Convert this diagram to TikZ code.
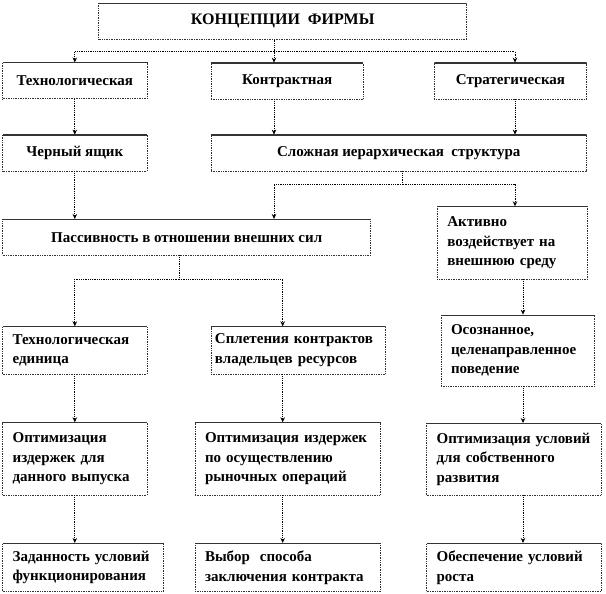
\documentclass[tikz,border=0pt]{standalone}
\usepackage{fontspec}
\setmainfont{Liberation Serif}
\usetikzlibrary{arrows.meta, positioning}

\begin{document}
\begin{tikzpicture}[x=1pt, y=-1pt,
  cbox/.style={draw=black!80, densely dotted, line width=0.7pt, font=\fontsize{15}{19.5}\selectfont\bfseries, inner xsep=10pt, inner ysep=2pt, align=center,
    path picture={\draw[solid, black!80, line width=1.4pt] (path picture bounding box.north west) -- (path picture bounding box.north east);}},
  lbox/.style={cbox, align=left, text width=#1},
  wire/.style={densely dotted, line width=0.8pt},
  link/.style={wire, -{Stealth[length=5pt, width=4.5pt]}}
]
  \useasboundingbox (0,0) rectangle (606,594);

  \node[cbox, minimum width=368pt, minimum height=36pt, font=\fontsize{16}{19}\selectfont\bfseries] (firm) at (282.7,21.3) {КОНЦЕПЦИИ\ \ ФИРМЫ};

  \node[cbox, minimum width=144.3pt, minimum height=36pt] (tech) at (74.8,80.8) {Технологическая};
  \node[cbox, minimum width=152.3pt, minimum height=36pt] (contr) at (287.2,81) {Контрактная};
  \node[cbox, minimum width=152.4pt, minimum height=36pt] (strat) at (510.5,81) {Стратегическая};

  \node[cbox, minimum width=144.3pt, minimum height=36pt] (black) at (74.8,153) {Черный ящик};
  \node[cbox, minimum width=375.7pt, minimum height=36pt] (compl) at (398.8,153) {Сложная иерархическая\ \ структура};

  \node[cbox, minimum width=368pt, minimum height=35.7pt] (pass) at (186.7,237.2) {Пассивность в отношении внешних сил};
  \node[lbox=130.4pt, minimum height=72.3pt, xshift=2pt] (activ) at (510.5,242.8) {Активно\\воздействует на\\внешнюю среду};

  \node[lbox=124.3pt, minimum height=47.3pt] (techu) at (74.8,350.3) {Технологическая\\единица};
  \node[lbox=166.7pt, inner xsep=4pt, minimum height=47.3pt] (splet) at (298.3,350.3) {Сплетения контрактов\\владельцев ресурсов};
  \node[lbox=133.3pt, minimum height=71pt] (consc) at (517.7,350.5) {Осознанное,\\целенаправленное\\поведение};

  \node[lbox=124.3pt, minimum height=72.3pt] (opt1) at (74.8,458.8) {Оптимизация\\издержек для\\данного выпуска};
  \node[lbox=165pt, minimum height=72.3pt] (opt2) at (287.5,458.8) {Оптимизация издержек\\по осуществлению\\рыночных операций};
  \node[lbox=154.3pt, minimum height=71.7pt] (opt3) at (513.8,459.2) {Оптимизация условий\\для собственного\\развития};

  \node[lbox=140.6pt, minimum height=48.4pt] (zad) at (83,567.5) {Заданность условий\\функционирования};
  \node[lbox=165pt, minimum height=48.4pt] (vyb) at (287.5,567.5) {Выбор\ \ способа\\заключения контракта};
  \node[lbox=154.3pt, minimum height=48.4pt] (obes) at (513.8,567.5) {Обеспечение условий\\роста};

  \coordinate (j1) at (274,51.7);
  \coordinate (j2) at (402.7,184);
  \coordinate (j3) at (179,279);
  \coordinate (cB) at (282.7,0);
  \coordinate (cC) at (515,0);
  \coordinate (cD) at (523,0);

  \draw[wire] (firm.south -| j1) -- (j1);
  \draw[link] (j1) -| (tech);
  \draw[link] (j1) -- (j1 |- contr.north);
  \draw[link] (j1) -| (strat.north -| cC);

  \draw[link] (tech) -- (black);
  \draw[link] (contr.south -| j1) -- (compl.north -| j1);
  \draw[link] (strat.south -| cC) -- (compl.north -| cC);

  \draw[link] (black) -- (black |- pass.north);
  \draw[wire] (compl.south -| j2) -- (j2);
  \draw[link] (j2) -| (pass.north -| j1);
  \draw[link] (j2) -| (activ.north -| cC);

  \draw[wire] (pass.south -| j3) -- (j3);
  \draw[link] (j3) -| (techu);
  \draw[link] (j3) -| (splet.north -| cB);
  \draw[link] (activ.south -| cD) -- (consc.north -| cD);

  \draw[link] (techu) -- (opt1);
  \draw[link] (splet.south -| cB) -- (opt2.north -| cB);
  \draw[link] (consc.south -| cD) -- (opt3.north -| cD);

  \draw[link] (opt1) -- (opt1 |- zad.north);
  \draw[link] (opt2.south -| cB) -- (vyb.north -| cB);
  \draw[link] (opt3.south -| cD) -- (obes.north -| cD);
\end{tikzpicture}
\end{document}
